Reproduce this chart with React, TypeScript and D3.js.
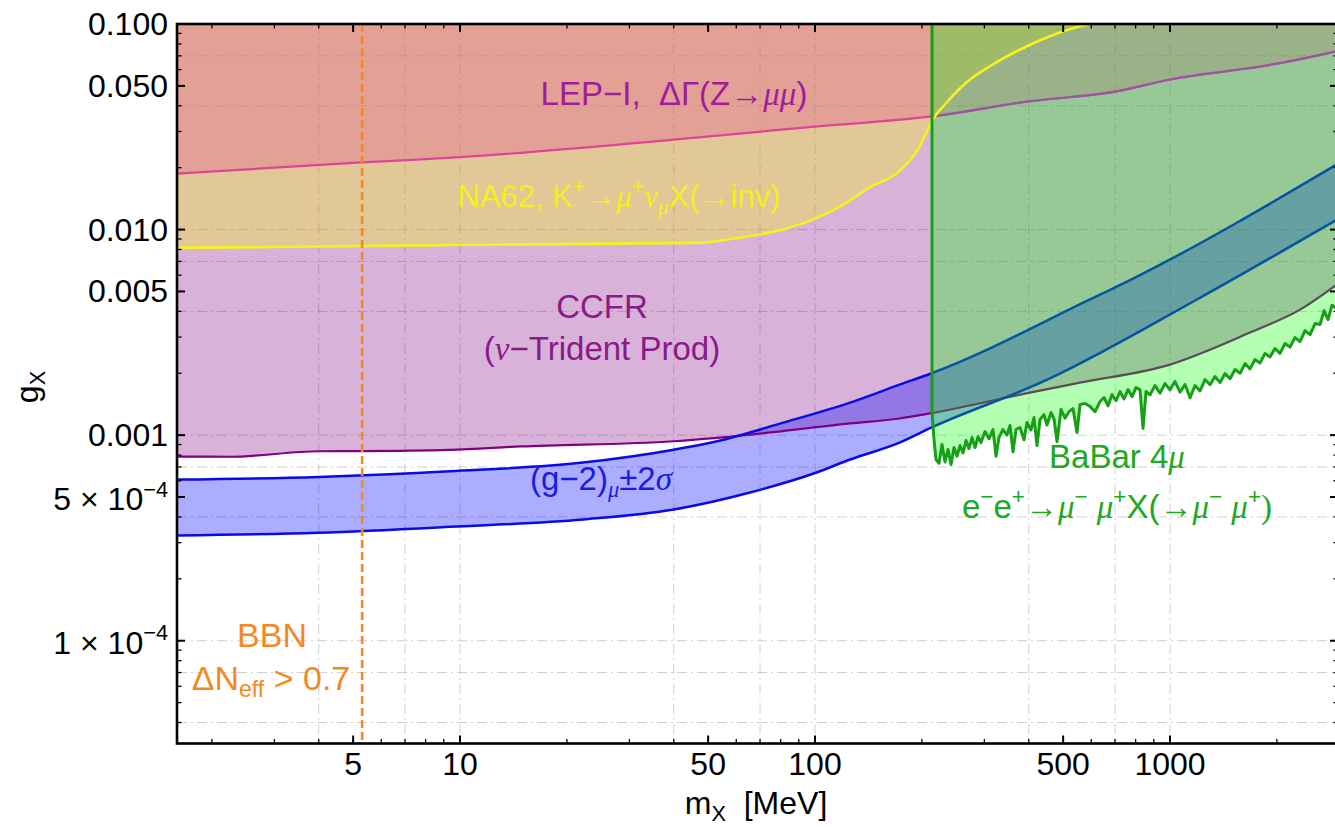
import React from 'react';
import * as d3 from 'd3';

const W = 1335;
const H = 827;
const M = { left: 177, right: 1338, top: 24, bottom: 743.5 };
const SANS = '"Liberation Sans", Arial, sans-serif';
const SERIF = '"Liberation Serif", "Times New Roman", serif';

// LEP-I, ΔΓ(Z→μμ)
const lepM = [1.595, 5, 10, 40, 100, 213, 400, 700, 1000, 2000, 2973];
const lepG = [0.0187, 0.0211, 0.0225, 0.0274, 0.0317, 0.0355, 0.042, 0.0469, 0.0537, 0.0641, 0.074];

// NA62, K+ → μ+ ν X(→inv)
const na62M = [1.595, 4, 9.37, 46.5, 61.5, 81.3, 123, 143, 170, 185, 195, 206, 215, 235, 267, 311, 370, 459, 558, 600];
const na62G = [0.00815, 0.00827, 0.00841, 0.00862, 0.00914, 0.01, 0.01353, 0.0161, 0.0188, 0.0217, 0.0245, 0.0296, 0.0343, 0.0415, 0.0519, 0.0623, 0.0737, 0.0871, 0.0974, 0.1];

// CCFR (nu-trident)
const ccfrM = [1.595, 2.25, 4, 5.3, 9.37, 14.8, 40, 54, 125.6, 173, 213, 403, 557, 1000, 1680, 2324, 2973];
const ccfrG = [7.87e-4, 7.85e-4, 8.35e-4, 8.36e-4, 8.47e-4, 8.81e-4, 9.34e-4, 9.73e-4, 1.14e-3, 1.205e-3, 1.28e-3, 1.61e-3, 1.8e-3, 2.204e-3, 3.155e-3, 4.08e-3, 5.46e-3];

// (g-2)_mu ± 2 sigma band
const g2UpM = [1.595, 4, 9.37, 22.2, 40, 53, 81.3, 125.6, 173, 213, 595, 787, 2973];
const g2UpG = [6.08e-4, 6.26e-4, 6.67e-4, 7.36e-4, 8.5e-4, 9.34e-4, 1.15e-3, 1.44e-3, 1.76e-3, 2.0e-3, 4.57e-3, 5.78e-3, 0.0209];
const g2LoM = [1.595, 4, 9.37, 22.2, 40, 65.6, 101, 125.6, 173, 213, 451, 1191, 2973];
const g2LoG = [3.25e-4, 3.35e-4, 3.58e-4, 3.89e-4, 4.35e-4, 5.26e-4, 6.58e-4, 7.61e-4, 9.2e-4, 1.09e-3, 1.86e-3, 4.57e-3, 0.01125];

// BaBar 4mu
const babarM = [213.6, 213.6, 216.4, 219.2, 223.5, 227.9, 232.4, 236.9, 241.6, 246.3, 251.2, 256.1, 261.2, 266.3, 271.5, 276.9, 282.3, 287.9, 293.5, 301.2, 309.1, 317.2, 323.5, 329.7, 338.4, 347.3, 354.2, 361.2, 368.3, 378, 387.9, 395.5, 405.9, 413.9, 422, 430.3, 441.6, 450.3, 462.2, 471.2, 480.5, 493.2, 506.1, 519.4, 533.1, 547, 557.8, 576.2, 595.2, 614.8, 635.1, 651.8, 669, 686.5, 704.6, 723.1, 742.1, 761.6, 781.6, 802.1, 823.2, 839.3, 855.8, 878.4, 907.4, 937.2, 968.1, 1000, 1033, 1067, 1102, 1139, 1176, 1215, 1255, 1296, 1339, 1383, 1429, 1476, 1525, 1575, 1627, 1680, 1735, 1792, 1852, 1913, 1976, 2041, 2108, 2178, 2250, 2324, 2401, 2480, 2562, 2646, 2716, 2787, 2860, 2936];
const babarG = [0.1, 1.288e-3, 9.52e-4, 7.6e-4, 7.3e-4, 9.0e-4, 7.4e-4, 8.51e-4, 7.2e-4, 8.7e-4, 7.9e-4, 8.9e-4, 8.2e-4, 9.41e-4, 8.6e-4, 9.73e-4, 8.7e-4, 9.84e-4, 9.2e-4, 1.041e-3, 9.6e-4, 1.065e-3, 7.9e-4, 9.73e-4, 1.065e-3, 1.0e-3, 1.114e-3, 8.3e-4, 1.065e-3, 1.089e-3, 9.5e-4, 1.151e-3, 1.06e-3, 1.218e-3, 8.9e-4, 1.191e-3, 1.259e-3, 1.12e-3, 1.288e-3, 1.2e-3, 9.3e-4, 1.332e-3, 1.21e-3, 1.302e-3, 1.347e-3, 1.03e-3, 1.409e-3, 1.425e-3, 1.38e-3, 1.3e-3, 1.457e-3, 1.524e-3, 1.39e-3, 1.575e-3, 1.47e-3, 1.63e-3, 1.5e-3, 1.666e-3, 1.54e-3, 1.704e-3, 1.666e-3, 1.08e-3, 1.63e-3, 1.57e-3, 1.743e-3, 1.6e-3, 1.782e-3, 1.66e-3, 1.823e-3, 1.62e-3, 1.762e-3, 1.52e-3, 1.743e-3, 1.64e-3, 1.864e-3, 1.76e-3, 1.928e-3, 1.8e-3, 1.993e-3, 1.88e-3, 2.085e-3, 2.0e-3, 2.229e-3, 2.1e-3, 2.331e-3, 2.24e-3, 2.494e-3, 2.4e-3, 2.637e-3, 2.5e-3, 2.789e-3, 2.68e-3, 2.983e-3, 2.85e-3, 3.227e-3, 3.08e-3, 3.49e-3, 3.45e-3, 4.036e-3, 3.65e-3, 4.288e-3, 4.146e-3];

const bbnMass = 5.3;
const twoMmu = 213.6;

const xTickVals = [5, 10, 50, 100, 500, 1000];
const xTickLabels = ['5', '10', '50', '100', '500', '1000'];
const yTickVals = [0.1, 0.05, 0.01, 0.005, 0.001, 5e-4, 1e-4];
const yTickLabels = ['0.100', '0.050', '0.010', '0.005', '0.001', '5 × 10|−4', '1 × 10|−4'];
const decades = [1e-5, 1e-4, 1e-3, 1e-2, 1e-1, 1, 10, 100, 1000];
const gridMult = [1, 4, 7];

type Seg = { t: string; it?: boolean; sup?: boolean; sub?: boolean; serif?: boolean };

function Rich(props: { x: number; y: number; size: number; fill: string; segs: Seg[]; anchor?: string; transform?: string }) {
  const { x, y, size, fill, segs, anchor = 'middle', transform } = props;
  let shift = 0;
  return (
    <text x={x} y={y} fontSize={size} fill={fill} textAnchor={anchor} fontFamily={SANS}
      transform={transform} style={{ whiteSpace: 'pre' }}>
      {segs.map((s, i) => {
        const target = s.sup ? -0.42 * size : s.sub ? 0.21 * size : 0;
        const dy = target - shift;
        shift = target;
        return (
          <tspan key={i} dy={dy} fontSize={s.sup || s.sub ? size * 0.68 : undefined}
            fontStyle={s.it ? 'italic' : undefined} fontFamily={s.serif || s.it ? SERIF : undefined}>
            {s.t}
          </tspan>
        );
      })}
    </text>
  );
}

export default function App() {
  const x = d3.scaleLog().domain([1.595, 2973]).range([M.left, M.right]);
  const y = d3.scaleLog().domain([Math.pow(10, -4.5), 0.1]).range([M.bottom, M.top]);

  const pts = (ms: number[], gs: number[]) => ms.map((m, i) => [m, gs[i]] as [number, number]);
  const line = d3.line<[number, number]>().x(d => x(d[0])).y(d => y(d[1])).curve(d3.curveMonotoneX);
  const lineLin = d3.line<[number, number]>().x(d => x(d[0])).y(d => y(d[1]));
  const areaTop = d3.area<[number, number]>().x(d => x(d[0])).y0(M.top).y1(d => y(d[1])).curve(d3.curveMonotoneX);
  const areaTopLin = d3.area<[number, number]>().x(d => x(d[0])).y0(M.top).y1(d => y(d[1]));

  const lep = pts(lepM, lepG);
  const na62 = pts(na62M, na62G);
  const ccfr = pts(ccfrM, ccfrG);
  const g2Up = pts(g2UpM, g2UpG);
  const g2Lo = pts(g2LoM, g2LoG);
  const babar = pts(babarM, babarG);

  const bandPath = (line(g2Up) || '') + 'L' + (line([...g2Lo].reverse()) || '').slice(1) + 'Z';

  const [xd0, xd1] = x.domain();
  const [yd0, yd1] = y.domain();
  const xGrid: number[] = [];
  const yGrid: number[] = [];
  const xMinor: number[] = [];
  const yMinor: number[] = [];
  decades.forEach(d => {
    gridMult.forEach(k => {
      const v = d * k;
      if (v >= xd0 && v <= xd1) xGrid.push(v);
      if (v >= yd0 && v <= yd1 * 1.0001) yGrid.push(v);
    });
    for (let k = 1; k <= 9; k++) {
      const v = d * k;
      if (v >= xd0 && v <= xd1) xMinor.push(v);
      if (v >= yd0 && v <= yd1 * 1.0001) yMinor.push(v);
    }
  });

  const gridStyle = { stroke: '#9a9a9a', strokeOpacity: 0.45, strokeWidth: 1, strokeDasharray: '10,4,2,4' };
  const majLen = 8;
  const minLen = 4.5;

  return (
    <svg width={W} height={H} style={{ position: 'absolute', left: 0, top: 0, background: '#fff' }}>
      <defs>
        <clipPath id="plot">
          <rect x={M.left} y={M.top} width={M.right - M.left} height={M.bottom - M.top} />
        </clipPath>
        <clipPath id="rightOf2mu">
          <rect x={x(twoMmu)} y={M.top} width={M.right - x(twoMmu)} height={M.bottom - M.top} />
        </clipPath>
      </defs>

      <g clipPath="url(#plot)">
        {xGrid.map(v => <line key={'gx' + v} x1={x(v)} x2={x(v)} y1={M.top} y2={M.bottom} {...gridStyle} />)}
        {yGrid.map(v => <line key={'gy' + v} x1={M.left} x2={M.right} y1={y(v)} y2={y(v)} {...gridStyle} />)}

        <path d={areaTop(ccfr) || ''} fill="rgb(128,0,128)" fillOpacity={0.3} />
        <path d={areaTop(na62) || ''} fill="rgb(250,250,0)" fillOpacity={0.3} />
        <path d={areaTop(lep) || ''} fill="rgb(229,70,146)" fillOpacity={0.3} />
        <path d={bandPath} fill="rgb(0,0,255)" fillOpacity={0.32} />

        <path d={line(ccfr) || ''} fill="none" stroke="#800080" strokeWidth={2.2} />
        <path d={line(g2Up) || ''} fill="none" stroke="#0a0ae6" strokeWidth={2.5} />
        <path d={line(g2Lo) || ''} fill="none" stroke="#0a0ae6" strokeWidth={2.5} />
        <path d={line(lep) || ''} fill="none" stroke="#e0449a" strokeWidth={2.2} />

        <path d={areaTopLin(babar) || ''} fill="rgb(0,255,0)" fillOpacity={0.3} />

        <path d={line(lep) || ''} fill="none" stroke="#a050a8" strokeWidth={2.2} clipPath="url(#rightOf2mu)" />
        <path d={line(na62) || ''} fill="none" stroke="#f6f31c" strokeWidth={2.6} />
        <path d={lineLin(babar) || ''} fill="none" stroke="#15a015" strokeWidth={3} strokeLinejoin="round" />

        <line x1={x(bbnMass)} x2={x(bbnMass)} y1={M.top} y2={M.bottom} stroke="#f28a1e" strokeWidth={2.6} strokeDasharray="8,4" />
      </g>

      {/* region labels */}
      <Rich x={674} y={105} size={33} fill="#a01d9c"
        segs={[{ t: 'LEP−I,  ΔΓ(Z→' }, { t: 'μμ', it: true }, { t: ')' }]} />
      <Rich x={619} y={207} size={31} fill="#f3f01e"
        segs={[{ t: 'NA62, K' }, { t: '+', sup: true }, { t: '→', serif: true }, { t: 'μ', it: true }, { t: '+', sup: true },
          { t: 'ν', it: true }, { t: 'μ', it: true, sub: true }, { t: 'X(→inv)' }]} />
      <Rich x={602} y={318} size={33} fill="#8a1a86" segs={[{ t: 'CCFR' }]} />
      <Rich x={602} y={360} size={33} fill="#8a1a86"
        segs={[{ t: '(' }, { t: 'ν', it: true }, { t: '−Trident Prod)' }]} />
      <Rich x={601} y={490} size={33} fill="#1c1ce0"
        segs={[{ t: '(g−2)' }, { t: 'μ', it: true, sub: true }, { t: '±2' }, { t: 'σ', it: true }]} />
      <Rich x={1117} y={468} size={33} fill="#20a820"
        segs={[{ t: 'BaBar 4' }, { t: 'μ', it: true }]} />
      <Rich x={1117} y={518} size={33} fill="#20a820"
        segs={[{ t: 'e' }, { t: '−', sup: true }, { t: 'e' }, { t: '+', sup: true }, { t: '→', serif: true }, { t: 'μ', it: true },
          { t: '−', sup: true }, { t: ' ' }, { t: 'μ', it: true }, { t: '+', sup: true }, { t: 'X(' }, { t: '→', serif: true }, { t: 'μ', it: true },
          { t: '−', sup: true }, { t: ' ' }, { t: 'μ', it: true }, { t: '+', sup: true }, { t: ')', serif: true }]} />
      <Rich x={272} y={647} size={34} fill="#f28a24" segs={[{ t: 'BBN' }]} />
      <Rich x={271} y={690} size={34} fill="#f28a24"
        segs={[{ t: 'ΔN' }, { t: 'eff', sub: true }, { t: ' > 0.7' }]} />

      {/* frame */}
      <rect x={M.left} y={M.top} width={M.right - M.left} height={M.bottom - M.top} fill="none" stroke="#000" strokeWidth={2.6} />
      {xMinor.map(v => (
        <g key={'xm' + v}>
          <line x1={x(v)} x2={x(v)} y1={M.bottom} y2={M.bottom - minLen} stroke="#000" strokeWidth={1.3} />
          <line x1={x(v)} x2={x(v)} y1={M.top} y2={M.top + minLen} stroke="#000" strokeWidth={1.3} />
        </g>
      ))}
      {xTickVals.map((v, i) => (
        <g key={'xt' + v}>
          <line x1={x(v)} x2={x(v)} y1={M.bottom} y2={M.bottom - majLen} stroke="#000" strokeWidth={2} />
          <line x1={x(v)} x2={x(v)} y1={M.top} y2={M.top + majLen} stroke="#000" strokeWidth={2} />
          <text x={x(v)} y={775} fontSize={32} fontFamily={SANS} textAnchor="middle" fill="#000">{xTickLabels[i]}</text>
        </g>
      ))}
      {yMinor.map(v => (
        <g key={'ym' + v}>
          <line x1={M.left} x2={M.left + minLen} y1={y(v)} y2={y(v)} stroke="#000" strokeWidth={1.3} />
          <line x1={M.right} x2={M.right - minLen} y1={y(v)} y2={y(v)} stroke="#000" strokeWidth={1.3} />
        </g>
      ))}
      {yTickVals.map((v, i) => {
        const [base, exp] = yTickLabels[i].split('|');
        return (
          <g key={'yt' + v}>
            <line x1={M.left} x2={M.left + majLen} y1={y(v)} y2={y(v)} stroke="#000" strokeWidth={2} />
            <line x1={M.right} x2={M.right - majLen} y1={y(v)} y2={y(v)} stroke="#000" strokeWidth={2} />
            {exp ? (
              <Rich x={168} y={y(v) + 13} size={32} fill="#000" anchor="end"
                segs={[{ t: base }, { t: exp, sup: true }]} />
            ) : (
              <text x={168} y={y(v) + 11} fontSize={32} fontFamily={SANS} textAnchor="end" fill="#000">{base}</text>
            )}
          </g>
        );
      })}

      {/* axis titles */}
      <Rich x={756} y={814} size={32} fill="#000"
        segs={[{ t: 'm' }, { t: 'X', sub: true }, { t: '  [MeV]' }]} />
      <Rich x={0} y={0} size={32} fill="#000" transform="translate(38,387) rotate(-90)"
        segs={[{ t: 'g' }, { t: 'X', sub: true }]} />
    </svg>
  );
}
